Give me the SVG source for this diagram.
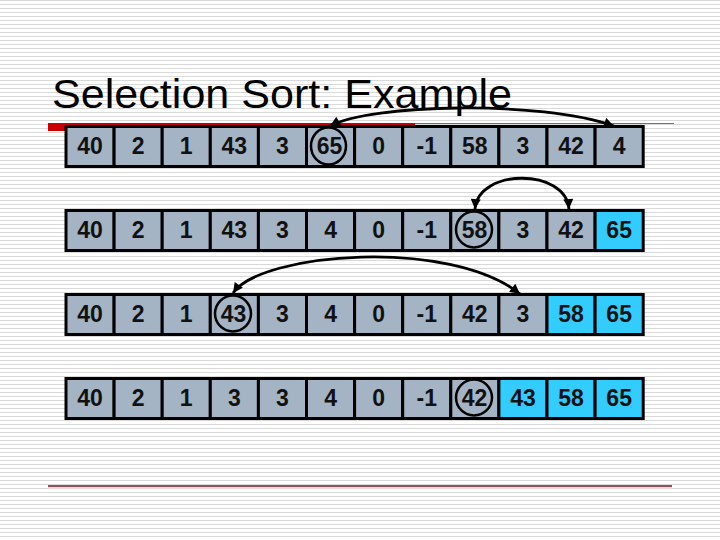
<svg xmlns="http://www.w3.org/2000/svg" width="720" height="540" viewBox="0 0 720 540">
<defs>
<pattern id="stripes" x="0" y="0" width="8" height="4" patternUnits="userSpaceOnUse">
<rect x="0" y="0" width="8" height="1" fill="#d9d9d9"/>
</pattern>
<marker id="ah" viewBox="0 0 10 10" refX="10" refY="5" markerWidth="12" markerHeight="10" markerUnits="userSpaceOnUse" orient="auto-start-reverse">
<path d="M0,0 L10,5 L0,10 Z" fill="#000"/>
</marker>
<style>
.c rect{stroke:#000;stroke-width:3}
.g{fill:#a5b4c4}
.b{fill:#33ccff}
.c text{font-family:"Liberation Sans",Arial,sans-serif;font-weight:bold;font-size:23px;text-anchor:middle;fill:#111}
.ring{fill:none;stroke:#000;stroke-width:2.5}
.arc{fill:none;stroke:#000;stroke-width:2.8;marker-start:url(#ah);marker-end:url(#ah)}
</style>
</defs>
<rect x="0" y="0" width="720" height="540" fill="#fff"/>
<rect x="0" y="0" width="720" height="540" fill="url(#stripes)"/>
<text x="52" y="108" font-family="'Liberation Sans',Arial,sans-serif" font-size="40" fill="#000" textLength="460" lengthAdjust="spacingAndGlyphs">Selection Sort: Example</text>
<rect x="48" y="123" width="367" height="8" fill="#cc0000"/>
<line x1="415" y1="123.5" x2="674" y2="123.5" stroke="#c85050" stroke-width="1"/>
<rect x="48" y="486.5" width="624" height="2.5" fill="#f3d6d8"/>
<line x1="48" y1="486" x2="672" y2="486" stroke="#5e1f2c" stroke-width="1.5"/>

<g id="row1" class="c">
<g id="r1c1"><rect class="g" x="66" y="126.5" width="48.1" height="40"/><text x="90.05" y="154">40</text></g>
<g id="r1c2"><rect class="g" x="114.1" y="126.5" width="48.1" height="40"/><text x="138.15" y="154">2</text></g>
<g id="r1c3"><rect class="g" x="162.2" y="126.5" width="48.1" height="40"/><text x="186.25" y="154">1</text></g>
<g id="r1c4"><rect class="g" x="210.3" y="126.5" width="48.1" height="40"/><text x="234.35" y="154">43</text></g>
<g id="r1c5"><rect class="g" x="258.4" y="126.5" width="48.1" height="40"/><text x="282.45" y="154">3</text></g>
<g id="r1c6"><rect class="g" x="306.5" y="126.5" width="48.1" height="40"/><text x="329.5" y="154">65</text><ellipse class="ring" cx="328.5" cy="146" rx="17.5" ry="18.5"/></g>
<g id="r1c7"><rect class="g" x="354.6" y="126.5" width="48.1" height="40"/><text x="378.65" y="154">0</text></g>
<g id="r1c8"><rect class="g" x="402.7" y="126.5" width="48.1" height="40"/><text x="426.75" y="154">-1</text></g>
<g id="r1c9"><rect class="g" x="450.8" y="126.5" width="48.1" height="40"/><text x="474.85" y="154">58</text></g>
<g id="r1c10"><rect class="g" x="498.9" y="126.5" width="48.1" height="40"/><text x="522.95" y="154">3</text></g>
<g id="r1c11"><rect class="g" x="547" y="126.5" width="48.1" height="40"/><text x="571.05" y="154">42</text></g>
<g id="r1c12"><rect class="g" x="595.1" y="126.5" width="48.1" height="40"/><text x="619.15" y="154">4</text></g>
</g>

<g id="row2" class="c">
<g id="r2c1"><rect class="g" x="66" y="210.5" width="48.1" height="40"/><text x="90.05" y="238">40</text></g>
<g id="r2c2"><rect class="g" x="114.1" y="210.5" width="48.1" height="40"/><text x="138.15" y="238">2</text></g>
<g id="r2c3"><rect class="g" x="162.2" y="210.5" width="48.1" height="40"/><text x="186.25" y="238">1</text></g>
<g id="r2c4"><rect class="g" x="210.3" y="210.5" width="48.1" height="40"/><text x="234.35" y="238">43</text></g>
<g id="r2c5"><rect class="g" x="258.4" y="210.5" width="48.1" height="40"/><text x="282.45" y="238">3</text></g>
<g id="r2c6"><rect class="g" x="306.5" y="210.5" width="48.1" height="40"/><text x="330.55" y="238">4</text></g>
<g id="r2c7"><rect class="g" x="354.6" y="210.5" width="48.1" height="40"/><text x="378.65" y="238">0</text></g>
<g id="r2c8"><rect class="g" x="402.7" y="210.5" width="48.1" height="40"/><text x="426.75" y="238">-1</text></g>
<g id="r2c9"><rect class="g" x="450.8" y="210.5" width="48.1" height="40"/><text x="474.5" y="238">58</text><ellipse class="ring" cx="474" cy="229.5" rx="18" ry="18"/></g>
<g id="r2c10"><rect class="g" x="498.9" y="210.5" width="48.1" height="40"/><text x="522.95" y="238">3</text></g>
<g id="r2c11"><rect class="g" x="547" y="210.5" width="48.1" height="40"/><text x="571.05" y="238">42</text></g>
<g id="r2c12"><rect class="b" x="595.1" y="210.5" width="48.1" height="40"/><text x="619.15" y="238">65</text></g>
</g>

<g id="row3" class="c">
<g id="r3c1"><rect class="g" x="66" y="294.5" width="48.1" height="40"/><text x="90.05" y="322">40</text></g>
<g id="r3c2"><rect class="g" x="114.1" y="294.5" width="48.1" height="40"/><text x="138.15" y="322">2</text></g>
<g id="r3c3"><rect class="g" x="162.2" y="294.5" width="48.1" height="40"/><text x="186.25" y="322">1</text></g>
<g id="r3c4"><rect class="g" x="210.3" y="294.5" width="48.1" height="40"/><text x="233.5" y="322">43</text><ellipse class="ring" cx="233" cy="313.5" rx="18" ry="18"/></g>
<g id="r3c5"><rect class="g" x="258.4" y="294.5" width="48.1" height="40"/><text x="282.45" y="322">3</text></g>
<g id="r3c6"><rect class="g" x="306.5" y="294.5" width="48.1" height="40"/><text x="330.55" y="322">4</text></g>
<g id="r3c7"><rect class="g" x="354.6" y="294.5" width="48.1" height="40"/><text x="378.65" y="322">0</text></g>
<g id="r3c8"><rect class="g" x="402.7" y="294.5" width="48.1" height="40"/><text x="426.75" y="322">-1</text></g>
<g id="r3c9"><rect class="g" x="450.8" y="294.5" width="48.1" height="40"/><text x="474.85" y="322">42</text></g>
<g id="r3c10"><rect class="g" x="498.9" y="294.5" width="48.1" height="40"/><text x="522.95" y="322">3</text></g>
<g id="r3c11"><rect class="b" x="547" y="294.5" width="48.1" height="40"/><text x="571.05" y="322">58</text></g>
<g id="r3c12"><rect class="b" x="595.1" y="294.5" width="48.1" height="40"/><text x="619.15" y="322">65</text></g>
</g>

<g id="row4" class="c">
<g id="r4c1"><rect class="g" x="66" y="378.5" width="48.1" height="40"/><text x="90.05" y="406">40</text></g>
<g id="r4c2"><rect class="g" x="114.1" y="378.5" width="48.1" height="40"/><text x="138.15" y="406">2</text></g>
<g id="r4c3"><rect class="g" x="162.2" y="378.5" width="48.1" height="40"/><text x="186.25" y="406">1</text></g>
<g id="r4c4"><rect class="g" x="210.3" y="378.5" width="48.1" height="40"/><text x="234.35" y="406">3</text></g>
<g id="r4c5"><rect class="g" x="258.4" y="378.5" width="48.1" height="40"/><text x="282.45" y="406">3</text></g>
<g id="r4c6"><rect class="g" x="306.5" y="378.5" width="48.1" height="40"/><text x="330.55" y="406">4</text></g>
<g id="r4c7"><rect class="g" x="354.6" y="378.5" width="48.1" height="40"/><text x="378.65" y="406">0</text></g>
<g id="r4c8"><rect class="g" x="402.7" y="378.5" width="48.1" height="40"/><text x="426.75" y="406">-1</text></g>
<g id="r4c9"><rect class="g" x="450.8" y="378.5" width="48.1" height="40"/><text x="474.5" y="406">42</text><ellipse class="ring" cx="474" cy="397.5" rx="18" ry="18"/></g>
<g id="r4c10"><rect class="b" x="498.9" y="378.5" width="48.1" height="40"/><text x="522.95" y="406">43</text></g>
<g id="r4c11"><rect class="b" x="547" y="378.5" width="48.1" height="40"/><text x="571.05" y="406">58</text></g>
<g id="r4c12"><rect class="b" x="595.1" y="378.5" width="48.1" height="40"/><text x="619.15" y="406">65</text></g>
</g>

<g id="connectors">
<path class="arc" d="M330,126 C370,104 540,100 614,126"/>
<path class="arc" d="M475,209 C478,168 566,168 569,209"/>
<path class="arc" d="M233,293 C262,252 450,238 520,294"/>
</g>
</svg>
